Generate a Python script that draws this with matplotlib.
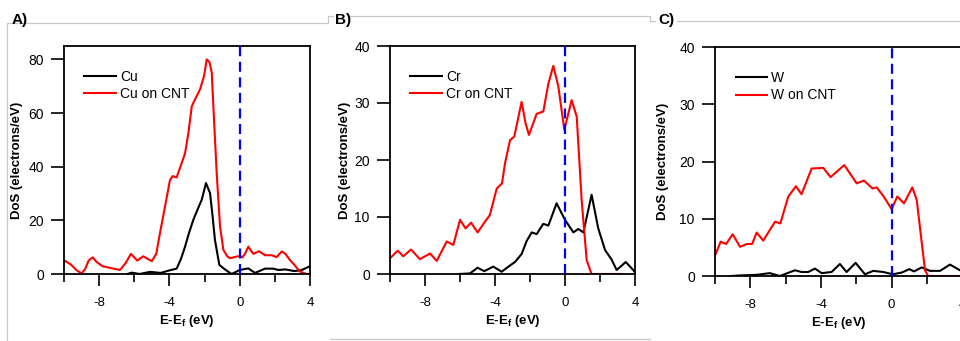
import numpy as np
import matplotlib.pyplot as plt
from matplotlib.lines import Line2D
from matplotlib.ticker import FixedLocator

plt.rcParams['font.family'] = ['Liberation Sans', 'DejaVu Sans']
plt.rcParams['axes.unicode_minus'] = False

# Cu panel
cu_cnt_e = [-10, -9.94, -9.6, -9.3, -9.0, -8.8, -8.6, -8.37, -8.15, -7.8, -7.4, -6.81, -6.5, -6.19,
            -5.83, -5.49, -5.2, -5.0, -4.75, -4.54, -4.25, -3.97, -3.82, -3.59, -3.3, -3.11, -2.92,
            -2.73, -2.55, -2.26, -2.03, -1.88, -1.72, -1.59, -1.5, -1.31, -1.12, -0.93, -0.7, -0.55,
            -0.17, 0.0, 0.15, 0.3, 0.49, 0.65, 0.78, 1.1, 1.44, 1.82, 2.1, 2.39, 2.6, 2.86, 3.1,
            3.43, 3.81, 4.0]
cu_cnt_d = [4.6, 4.9, 3.5, 1.5, 0.2, 1.8, 5.0, 6.2, 4.5, 2.9, 2.3, 1.5, 4.0, 7.5,
            5.0, 6.6, 5.5, 4.8, 7.5, 15.2, 25.2, 35, 36.5, 36, 41.4, 45, 52.6,
            62.5, 65, 68.8, 73.8, 80, 79, 75, 62.5, 37.6, 17.7, 9, 6.5, 5.9,
            6.5, 6.7, 6.2, 7.5, 10.2, 8.6, 7.5, 8.5, 7.0, 7.0, 6.3, 8.4, 7.5, 5.2, 3.5,
            0.9, 0, 0]
cu_e = [-6.4, -6.15, -5.7, -5.1, -4.5, -3.97, -3.59, -3.35, -3.11, -2.9, -2.64, -2.4, -2.16,
        -1.92, -1.69, -1.55, -1.41, -1.16, -0.84, -0.46, 0.0, 0.49, 0.87, 1.44, 1.9, 2.2, 2.6,
        3.1, 3.5, 4.0]
cu_d = [0, 0.5, 0, 0.8, 0.4, 1.4, 2.0, 5.5, 10.2, 15, 20.2, 24, 27.7,
        33.9, 30.2, 22, 12.7, 3.4, 1.7, 0, 1.5, 2.1, 0.4, 2.0, 2.0, 1.5, 1.7,
        1.1, 1.4, 2.9]

# Cr panel
cr_cnt_e = [-10, -9.56, -9.24, -8.8, -8.29, -7.71, -7.33, -6.76, -6.38, -6.0, -5.68, -5.37, -4.99,
            -4.57, -4.3, -3.9, -3.6, -3.43, -3.14, -2.9, -2.48, -2.25, -2.06, -1.62, -1.24, -0.95,
            -0.67, -0.38, -0.04, 0.38, 0.67, 0.95, 1.24, 1.52, 2.0, 3.2]
cr_cnt_d = [2.75, 4.1, 3.1, 4.3, 2.6, 3.6, 2.3, 5.7, 5.1, 9.5, 8.0, 9.0, 7.3,
            9.2, 10.3, 15, 15.9, 19.4, 23.5, 24.1, 30.2, 26.4, 24.4, 28.1, 28.5, 33.4,
            36.5, 32.9, 25.3, 30.5, 27.6, 13, 2.4, 0, 0, 0]
cr_e = [-6.1, -5.43, -5.0, -4.61, -4.1, -3.62, -3.14, -2.86, -2.48, -2.19, -1.9, -1.62, -1.24,
        -0.95, -0.48, 0.0, 0.48, 0.76, 1.05, 1.52, 1.9, 2.29, 2.67, 2.95, 3.47, 3.9, 4.0]
cr_d = [0, 0.1, 1.1, 0.5, 1.3, 0.4, 1.5, 2.1, 3.5, 5.8, 7.3, 7.0, 8.8,
        8.5, 12.4, 9.5, 7.3, 7.9, 7.3, 13.9, 8.0, 4.2, 2.5, 0.7, 2.1, 0.7, 0.3]

# W panel
w_cnt_e = [-10, -9.94, -9.68, -9.37, -9.0, -8.58, -8.2, -7.9, -7.64, -7.27, -6.6, -6.3, -5.85,
           -5.42, -5.1, -4.53, -3.87, -3.45, -2.68, -1.98, -1.57, -1.08, -0.85, -0.47, 0.0, 0.32,
           0.7, 1.17, 1.42, 1.64, 1.89, 2.07, 4.0]
w_cnt_d = [3.6, 4.0, 6.0, 5.6, 7.3, 5.1, 5.6, 5.6, 7.6, 6.2, 9.5, 9.2, 13.9,
           15.7, 14.3, 18.8, 18.9, 17.3, 19.4, 16.2, 16.7, 15.3, 15.5, 14.0, 11.7, 13.9,
           12.7, 15.5, 13.3, 7.5, 1.0, 0, 0]
w_e = [-9.06, -8.6, -7.66, -6.9, -6.33, -5.47, -5.1, -4.72, -4.34, -3.96, -3.4, -2.93, -2.55,
       -2.04, -1.51, -1.04, -0.47, 0.06, 0.57, 1.0, 1.27, 1.7, 2.17, 2.74, 3.3, 3.87, 4.0]
w_d = [0, 0.1, 0.2, 0.5, 0, 1.0, 0.7, 0.7, 1.3, 0.5, 0.7, 2.1, 0.7,
       2.3, 0.3, 0.9, 0.7, 0.3, 0.6, 1.2, 0.8, 1.5, 0.9, 0.9, 2.0, 1.0, 0.8]

W, H = 960, 341
fig = plt.figure(figsize=(W / 100, H / 100), dpi=100)


def box(l, r, t, b):
    return [l / W, 1 - b / H, (r - l) / W, (b - t) / H]


def gline(xs, ys):
    fig.add_artist(Line2D([x / W for x in xs], [1 - y / H for y in ys],
                          color='#c8c8c8', lw=0.9))


# light panel frames
gline([7, 7, 328, 328, 333], [341, 23, 23, 16, 16])
gline([350, 650, 650, 655], [16, 16, 21, 21])
gline([677, 960], [21, 21])
gline([330, 650], [339, 339])

panels = [
    ('A)', box(64, 310, 46, 274), 85, 20, 'Cu', cu_e, cu_d, cu_cnt_e, cu_cnt_d, 12, 47),
    ('B)', box(390, 635, 46, 274), 40, 10, 'Cr', cr_e, cr_d, cr_cnt_e, cr_cnt_d, 335, 45),
    ('C)', box(715, 962.3, 47.3, 276), 40, 10, 'W', w_e, w_d, w_cnt_e, w_cnt_d, 658, 52),
]

for tag, rect, ymax, ystep, name, e, d, e2, d2, tx, ylx in panels:
    ax = fig.add_axes(rect)
    ax.plot(e, d, color='black', lw=1.5, label=name, solid_joinstyle='round')
    ax.plot(e2, d2, color='#ff0000', lw=1.5, label=name + ' on CNT', solid_joinstyle='round')
    ax.axvline(0, color='#0000ff', lw=1.6, ls=(0, (4.5, 2.5)), zorder=5)
    ax.set_xlim(-10, 4)
    ax.set_ylim(0, ymax)
    ax.xaxis.set_major_locator(FixedLocator([-8, -4, 0, 4]))
    ax.xaxis.set_minor_locator(FixedLocator([-10, -6, -2, 2]))
    ax.set_yticks(np.arange(0, ymax + 0.1, ystep))
    ax.tick_params(axis='x', which='major', direction='out', length=8.5, width=1.2,
                   labelsize=9.5, pad=8)
    ax.tick_params(axis='x', which='minor', direction='out', length=5.5, width=1.2)
    ax.tick_params(axis='y', direction='out', length=9.5, width=1.2, labelsize=10, pad=5)
    for s in ax.spines.values():
        s.set_linewidth(1.3)
    ax.set_xlabel('E-E$_\\mathregular{f}$ (eV)', fontsize=9.5, fontweight='bold', labelpad=3)
    ax.set_ylabel('DoS (electrons/eV)', fontsize=9.5, fontweight='bold')
    ax.yaxis.set_label_coords(-(ylx - 6) / (rect[2] * W), 0.5)
    ax.legend(loc='upper left', bbox_to_anchor=(0.055, 0.927), frameon=False, fontsize=10,
              borderpad=0, handlelength=2.3, handletextpad=0.25, labelspacing=0.25)
    fig.text(tx / W, 1 - 20 / H, tag, fontsize=11, fontweight='bold', va='center', ha='left')

fig.savefig('out.png', dpi=100)
